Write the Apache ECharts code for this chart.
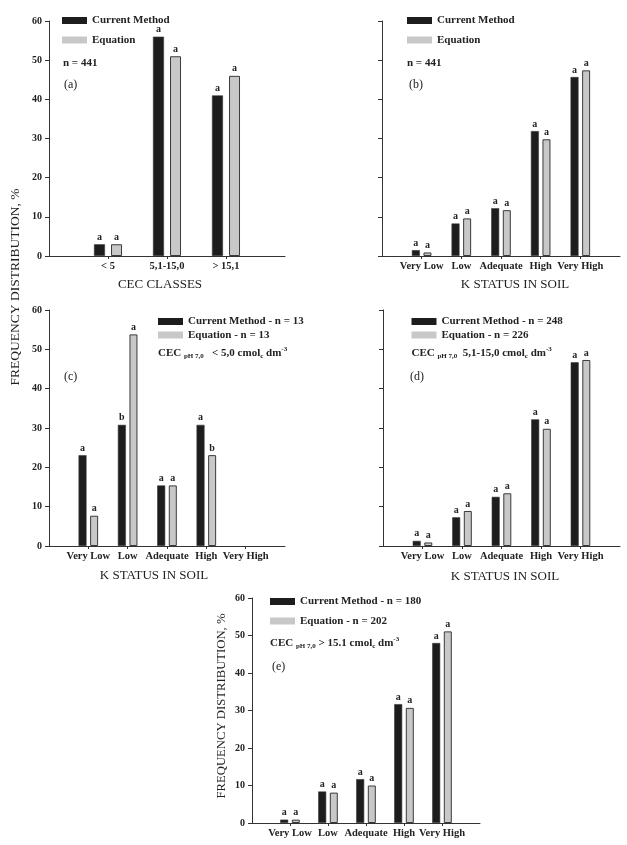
<!DOCTYPE html>
<html>
<head>
<meta charset="utf-8">
<script src="https://cdn.jsdelivr.net/npm/echarts@6/dist/echarts.min.js"></script>
<style>
html,body{margin:0;padding:0;background:#fff;}
#chart{width:627px;height:845px;}
</style>
</head>
<body>
<div id="chart"></div>
<script>
// ---------------- DATA ----------------
const cecClasses = ["< 5", "5,1-15,0", "> 15,1"];
const kStatus = ["Very Low", "Low", "Adequate", "High", "Very High"];
const yMin = 0, yMax = 60, yStep = 10;

const seriesNames = ["Current Method", "Equation"];

// (a) CEC classes, n = 441
const a_current = [3, 56, 41];
const a_equation = [3, 51, 46];
const a_curLetters = ["a", "a", "a"];
const a_eqLetters = ["a", "a", "a"];

// (b) K status, n = 441
const b_current = [1.5, 8.3, 12.2, 31.9, 45.7];
const b_equation = [0.9, 9.6, 11.7, 29.8, 47.4];
const b_curLetters = ["a", "a", "a", "a", "a"];
const b_eqLetters = ["a", "a", "a", "a", "a"];

// (c) CEC < 5,0
const c_current = [23.1, 30.8, 15.4, 30.8, 0];
const c_equation = [7.7, 53.8, 15.4, 23.1, 0];
const c_curLetters = ["a", "b", "a", "a", ""];
const c_eqLetters = ["a", "a", "a", "b", ""];

// (d) CEC 5,1-15,0
const d_current = [1.3, 7.3, 12.5, 32.2, 46.7];
const d_equation = [0.9, 8.9, 13.4, 29.8, 47.3];
const d_curLetters = ["a", "a", "a", "a", "a"];
const d_eqLetters = ["a", "a", "a", "a", "a"];

// (e) CEC > 15.1
const e_current = [0.9, 8.4, 11.7, 31.7, 48.0];
const e_equation = [0.9, 8.1, 10.0, 30.7, 51.1];
const e_curLetters = ["a", "a", "a", "a", "a"];
const e_eqLetters = ["a", "a", "a", "a", "a"];

// ---------------- LAYOUT / STYLE ----------------
const FONT = "'Liberation Serif','Times New Roman',serif";
const BLACK = "#1d1d1d", GRAY = "#c8c8c8", EDGE = "#3a3a3a", AXIS = "#333";

const panels = [
  { cats: cecClasses, cur: a_current, eq: a_equation, curL: a_curLetters, eqL: a_eqLetters,
    names: seriesNames, grid: {left: 49, top: 21, width: 236, height: 235}, yLabels: true,
    barWidth: 11, barGap: "55%", legend: {left: 62, top: 14.5, gap: 7.5} },
  { cats: kStatus, cur: b_current, eq: b_equation, curL: b_curLetters, eqL: b_eqLetters,
    names: seriesNames, grid: {left: 382, top: 21, width: 238, height: 235}, yLabels: false,
    barWidth: 8, barGap: "45%", legend: {left: 407, top: 14.5, gap: 7.5} },
  { cats: kStatus, cur: c_current, eq: c_equation, curL: c_curLetters, eqL: c_eqLetters,
    names: ["Current Method - n = 13", "Equation - n = 13"], grid: {left: 49, top: 310, width: 236, height: 236}, yLabels: true,
    barWidth: 8, barGap: "45%", legend: {left: 158, top: 315.5, gap: 1.5} },
  { cats: kStatus, cur: d_current, eq: d_equation, curL: d_curLetters, eqL: d_eqLetters,
    names: ["Current Method - n = 248", "Equation - n = 226"], grid: {left: 383, top: 310, width: 237, height: 236}, yLabels: false,
    barWidth: 8, barGap: "45%", legend: {left: 411.5, top: 315.5, gap: 1.5} },
  { cats: kStatus, cur: e_current, eq: e_equation, curL: e_curLetters, eqL: e_eqLetters,
    names: ["Current Method - n = 180", "Equation - n = 202"], grid: {left: 252, top: 598, width: 228, height: 225}, yLabels: true,
    barWidth: 8, barGap: "45%", legend: {left: 270, top: 595.5, gap: 7.5} }
];

const pad = arr => [null, ...arr, null];
const padCats = arr => ["", ...arr, ""];
// zero-height bars are not drawn in the reference: drop their outline
const toItems = arr => pad(arr).map(v => (v === 0 ? {value: 0, itemStyle: {borderWidth: 0, opacity: 0}} : v));

const grids = [], xAxes = [], yAxes = [], series = [], legends = [];

panels.forEach((p, i) => {
  grids.push(Object.assign({}, p.grid));
  const cats = padCats(p.cats);
  const n = cats.length;
  xAxes.push({
    type: "category", gridIndex: i, data: cats, boundaryGap: false,
    axisLine: {show: true, lineStyle: {color: AXIS, width: 1}},
    axisTick: {show: true, length: 3, lineStyle: {color: AXIS},
      interval: (idx) => idx > 0 && idx < n - 1},
    axisLabel: {interval: 0, margin: 5, fontFamily: FONT, fontWeight: "bold", fontSize: 10.5, color: "#222"},
    splitLine: {show: false}
  });
  yAxes.push({
    type: "value", gridIndex: i, min: yMin, max: yMax, interval: yStep,
    axisLine: {show: true, lineStyle: {color: AXIS, width: 1}},
    axisTick: {show: true, length: 4, inside: false, lineStyle: {color: AXIS}},
    axisLabel: {show: p.yLabels, margin: 7, fontFamily: FONT, fontWeight: "bold", fontSize: 10, color: "#222"},
    splitLine: {show: false}
  });
  const letters = [pad(p.curL), pad(p.eqL)];
  [p.cur, p.eq].forEach((vals, k) => {
    series.push({
      type: "bar", name: p.names[k], xAxisIndex: i, yAxisIndex: i,
      data: toItems(vals), barWidth: p.barWidth, barGap: p.barGap,
      itemStyle: {color: k === 0 ? BLACK : GRAY, borderColor: EDGE, borderWidth: k === 0 ? 0.6 : 1},
      label: {show: true, position: "top", distance: 2, fontFamily: FONT, fontWeight: "bold", fontSize: 10, color: "#222",
        formatter: (prm) => letters[k][prm.dataIndex] || ""},
      emphasis: {disabled: true},
      animation: false
    });
  });
  legends.push({
    data: p.names, orient: "vertical", left: p.legend.left, top: p.legend.top,
    itemGap: p.legend.gap, itemWidth: 25, itemHeight: 7, padding: 0, icon: "rect",
    selectedMode: false,
    itemStyle: {borderWidth: 0},
    textStyle: {fontFamily: FONT, fontWeight: "bold", fontSize: 11, color: "#222", lineHeight: 12}
  });
});

// annotation texts
const txt = (x, y, text, opt) => Object.assign({
  type: "text", x: x, y: y,
  style: Object.assign({text: text, fill: "#222", font: "13px " + FONT, verticalAlign: "middle", align: "left"}, (opt && opt.style) || {})
}, (opt && opt.el) || {});

const richCEC = {
  b: {fontFamily: FONT, fontWeight: "bold", fontSize: 11, lineHeight: 14, verticalAlign: "middle", fill: "#222"},
  sub: {fontFamily: FONT, fontWeight: "bold", fontSize: 7, lineHeight: 7, verticalAlign: "bottom", fill: "#222"},
  sup: {fontFamily: FONT, fontWeight: "bold", fontSize: 7, lineHeight: 7, verticalAlign: "top", fill: "#222"}
};
const cecText = (x, y, range) => ({
  type: "text", x: x, y: y,
  style: {
    text: "{b|CEC }{sub|pH 7,0}{b|" + range + " cmol}{sub|c}{b| dm}{sup|-3}",
    rich: richCEC, verticalAlign: "middle", align: "left"
  }
});

const graphics = [
  // y axis names
  txt(15, 287, "FREQUENCY DISTRIBUTION, %", {style: {font: "13.5px " + FONT, align: "center"}, el: {rotation: Math.PI / 2}}),
  txt(222, 706, "FREQUENCY DISTRIBUTION, %", {style: {font: "12.7px " + FONT, align: "center"}, el: {rotation: Math.PI / 2}}),
  // x axis names
  txt(160, 285, "CEC CLASSES", {style: {align: "center"}}),
  txt(515, 285, "K STATUS IN SOIL", {style: {align: "center"}}),
  txt(154, 576, "K STATUS IN SOIL", {style: {align: "center"}}),
  txt(505, 576.5, "K STATUS IN SOIL", {style: {align: "center"}}),
  // n labels
  txt(63, 63, "n = 441", {style: {font: "bold 11px " + FONT}}),
  txt(407, 63, "n = 441", {style: {font: "bold 11px " + FONT}}),
  // panel tags
  txt(64, 85, "(a)", {style: {font: "12px " + FONT}}),
  txt(409, 85, "(b)", {style: {font: "12px " + FONT}}),
  txt(64, 377, "(c)", {style: {font: "12px " + FONT}}),
  txt(410, 377, "(d)", {style: {font: "12px " + FONT}}),
  txt(272, 667, "(e)", {style: {font: "12px " + FONT}}),
  // CEC lines
  cecText(158, 353, "   < 5,0"),
  cecText(411.5, 353, "  5,1-15,0"),
  cecText(270, 643, " > 15.1")
];

const chart = echarts.init(document.getElementById("chart"), null, {renderer: "canvas"});
chart.setOption({
  backgroundColor: "#fff",
  animation: false,
  grid: grids,
  xAxis: xAxes,
  yAxis: yAxes,
  legend: legends,
  series: series,
  graphic: graphics
});
</script>
</body>
</html>
